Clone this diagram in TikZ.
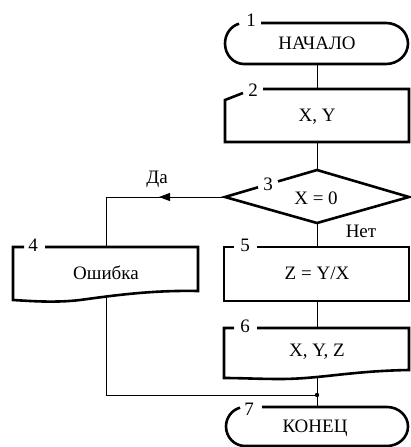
\documentclass[tikz,border=0pt]{standalone}
\usepackage{fontspec}
\setmainfont{Liberation Serif}
\usetikzlibrary{arrows.meta}
\begin{document}
\begin{tikzpicture}[x=1pt,y=1pt,
  txt/.style={inner sep=0pt,font=\fontsize{19}{21}\selectfont},
  blk/.style={inner sep=0pt,minimum width=184pt},
  outl/.style={line width=2.6pt,line join=miter},
  conn/.style={line width=1pt},
  num/.style={inner sep=0pt,font=\fontsize{19}{21}\selectfont}]
\useasboundingbox (0,0) rectangle (410,-447);
% nodes
\node[blk,minimum height=41pt] (t1) at (317,-43.5) {};
\node[txt] at (317,-43) {НАЧАЛО};
\node[blk,minimum height=53pt] (b2) at (317,-115.5) {};
\node[txt] at (317,-117) {X, Y};
\node[blk,minimum height=53pt] (d3) at (317,-196.5) {};
\coordinate (d3w) at (225,-197);
\node[txt] at (316,-198) {X = 0};
\node[blk,minimum height=49.5pt] (b4) at (106,-271.75) {};
\node[txt] at (106,-273) {Ошибка};
\node[blk,minimum height=54pt] (b5) at (317,-274) {};
\node[txt] at (317,-273) {Z = Y/X};
\node[blk,minimum height=49pt] (b6) at (317,-352.5) {};
\node[txt] at (317,-352) {X, Y, Z};
\node[blk,minimum height=39pt] (t7) at (317,-426.5) {};
\node[txt] at (315,-428) {КОНЕЦ};
\coordinate (j) at (317,-395);
\coordinate (arr) at (159,-197);
% number labels
\node[num] (n1) at (251,-20) {1};
\node[num] (n2) at (253,-90) {2};
\node[num] (n3) at (268,-184) {3};
\node[num] (n4) at (33,-245) {4};
\node[num] (n5) at (245,-245) {5};
\node[num] (n6) at (245,-326) {6};
\node[num] (n7) at (249,-409) {7};
\node[txt] (da) at (157,-179) {Да};
\node[txt] (net) at (361,-231) {Нет};
% outlines
\draw[outl] (261,-23) -- (386,-23) arc[start angle=90,end angle=-90,x radius=22,y radius=20.5]
  -- (244,-64) arc[start angle=270,end angle=105,x radius=19,y radius=20.5];
\draw[outl] (263,-89) -- (409,-89) -- (409,-142) -- (225,-142) -- (225,-100) -- (243,-93);
\draw[outl] (278,-181.4) -- (317,-170) -- (409,-197) -- (317,-223) -- (225,-197) -- (258,-187.3);
\draw[outl] (45,-247) -- (198,-247) -- (198,-291)
  .. controls (150,-290) and (110,-296) .. (80,-300)
  .. controls (55,-303) and (30,-301) .. (13,-300) -- (13,-247) -- (24,-247);
\draw[outl] (257,-247) -- (409,-247) -- (409,-301) -- (224,-301) -- (224,-247) -- (234,-247);
\draw[outl] (257,-328) -- (409,-328) -- (409,-370)
  .. controls (350,-371) and (320,-379) .. (280,-379)
  .. controls (260,-379) and (240,-378) .. (224,-378) -- (224,-328) -- (234,-328);
\draw[outl] (262,-407) -- (387,-407) arc[start angle=90,end angle=-90,x radius=21,y radius=19.5]
  -- (245,-446) arc[start angle=270,end angle=105,x radius=19,y radius=19.5];
% connectors
\draw[conn] (t1.south) -- (b2.north);
\draw[conn] (b2.south) -- (d3.north);
\draw[conn] (d3w) -- (b4.north |- d3w) -- (b4.north);
\draw[conn,-{Triangle[length=11pt,width=8pt]}] (d3w) -- (arr);
\draw[conn] (d3.south) -- (b5.north);
\draw[conn] (b5.south) -- (b6.north);
\draw[conn] (b6.south) -- (t7.north);
\draw[conn] (b4.south) -- (b4.south |- j) -- (j);
\fill (j) circle (2.2pt);
\end{tikzpicture}
\end{document}
